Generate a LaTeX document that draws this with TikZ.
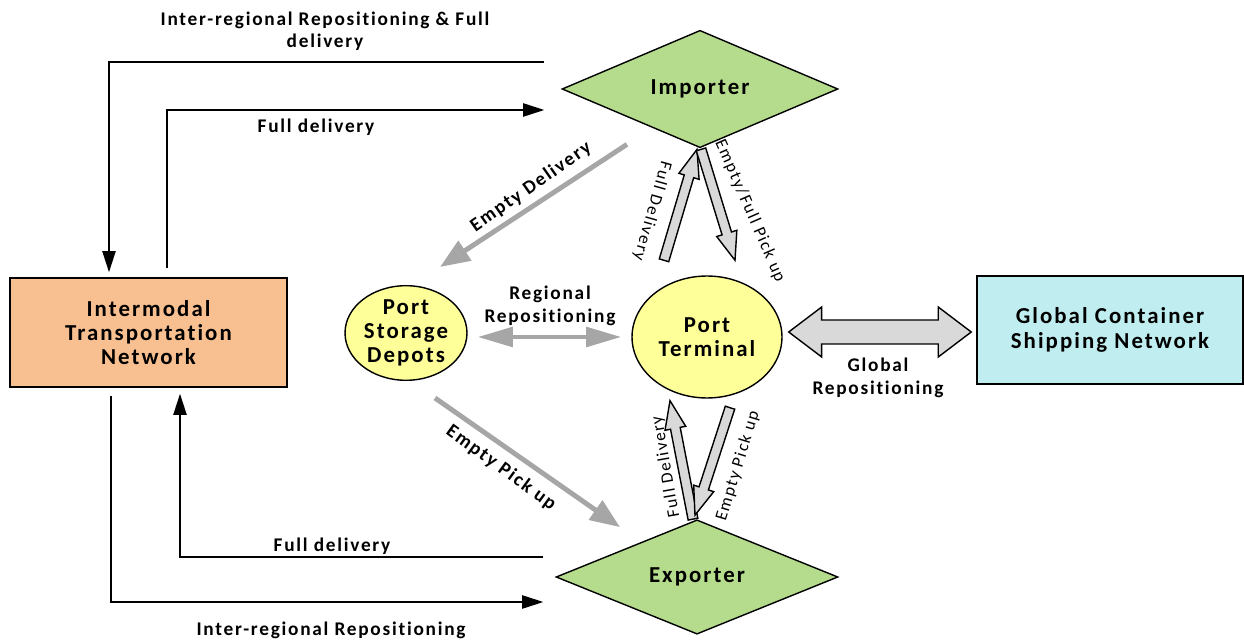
\documentclass[tikz,border=0pt]{standalone}
\usepackage{fontspec}
\usetikzlibrary{shapes.geometric,arrows.meta,calc}
\newfontfamily\cf{Carlito}[LetterSpace=9, Ligatures={NoCommon}]
\definecolor{peach}{HTML}{F8BF90}
\definecolor{ylw}{HTML}{FFFF99}
\definecolor{grn}{HTML}{B5DC8C}
\definecolor{cyn}{HTML}{C0EEF0}
\definecolor{garr}{HTML}{A6A6A6}
\definecolor{blk}{HTML}{D9D9D9}
\tikzset{
  ntext/.style={font=\cf\bfseries\fontsize{13}{13.8}\selectfont, align=center, text=black},
  lbl/.style={font=\cf\bfseries\fontsize{11}{12.8}\selectfont, align=center, inner sep=0pt},
  rlbl/.style={font=\cf\fontsize{9.8}{11}\selectfont, inner sep=0pt},
  boxnode/.style={ntext, draw=black, line width=0.9pt, rectangle, inner sep=0pt},
  dia/.style={ntext, draw=black, line width=0.8pt, diamond, fill=grn, inner sep=0pt, minimum width=5.52cm, minimum height=2.14cm},
  ell/.style={ntext, draw=black, line width=0.8pt, ellipse, fill=ylw, inner sep=0pt},
  blkarrow/.style={draw=black, line width=0.9pt, -{Triangle[length=12pt,width=7.5pt]}},
  grayarrow/.style={draw=garr, line width=2.8pt, -{Triangle[length=17pt,width=13pt]}},
  grayarrowtwo/.style={draw=garr, line width=2.6pt, {Triangle[length=20pt,width=11pt]}-{Triangle[length=20pt,width=11pt]}},
  blockfill/.style={draw=black, line width=0.8pt, fill=blk, line join=miter},
}
\newcommand\blockarr[2]{%
  \coordinate (baH) at ($(#2)!16pt!(#1)$);
  \draw[blockfill] ($(#1)!2.8pt!90:(#2)$) -- ($(baH)!2.8pt!90:(#2)$) -- ($(baH)!6pt!90:(#2)$) -- (#2) -- ($(baH)!6pt!-90:(#2)$) -- ($(baH)!2.8pt!-90:(#2)$) -- ($(#1)!2.8pt!-90:(#2)$) -- cycle;
}
\begin{document}
\begin{tikzpicture}[x=0.02cm,y=-0.02cm]
\useasboundingbox (0,0) rectangle (1244,641);
% nodes
\node[boxnode, fill=peach, minimum width=5.54cm, minimum height=2.18cm] (itn) at (148.5,332.5) {Intermodal\\Transportation\\Network};
\node[boxnode, fill=cyn, minimum width=5.32cm, minimum height=2.16cm] (gcs) at (1110,330) {Global Container\\Shipping Network};
\node[ell, minimum width=2.44cm, minimum height=1.8cm] (psd) at (406,333) {Port\\Storage\\Depots};
\node[ell, minimum width=3.0cm, minimum height=2.44cm] (ptm) at (707,337) {Port\\Terminal};
\node[dia] (imp) at (700,89) {Importer};
\node[dia, minimum width=5.64cm, minimum height=2.2cm] (exp) at (697,577) {Exporter};

% black connectors
\coordinate (i1) at ([shift={(-17,-27)}]imp.west);
\coordinate (n1) at ([shift={(-39.5,-5)}]itn.north);
\draw[blkarrow] (i1) -| (n1);
\coordinate (n2) at ([shift={(18.5,-9)}]itn.north);
\coordinate (i2) at ([shift={(-17,21)}]imp.west);
\draw[blkarrow] (n2) |- (i2);
\coordinate (n3) at ([shift={(-37.5,8)}]itn.south);
\coordinate (e3) at ([shift={(-12,25)}]exp.west);
\draw[blkarrow] (n3) |- (e3);
\coordinate (e4) at ([shift={(-12,-20)}]exp.west);
\coordinate (n4) at ([shift={(31.5,6)}]itn.south);
\draw[blkarrow] (e4) -| (n4);

% gray arrows
\coordinate (ed1) at ([shift={(-73,-4)}]imp.south);
\coordinate (ed2) at ([shift={(34,-18)}]psd.north);
\draw[grayarrow] (ed1) -- (ed2);
\coordinate (ep1) at ([shift={(29,17)}]psd.south);
\coordinate (ep2) at ([shift={(-77,8)}]exp.north);
\draw[grayarrow] (ep1) -- (ep2);
\coordinate (rr2) at ([shift={(-10,0)}]ptm.west);
\coordinate (rr1) at ([shift={(10,0)}]psd.east |- ptm.west);
\draw[grayarrowtwo] (rr1) -- (rr2);

% block arrows importer
\coordinate (fdA) at ([shift={(-43,-15)}]ptm.north);
\coordinate (fdB) at ([shift={(-3,1)}]imp.south);
\blockarr{fdA}{fdB}
\coordinate (efA) at ([shift={(1,1)}]imp.south);
\coordinate (efB) at ([shift={(28,-15)}]ptm.north);
\blockarr{efA}{efB}
% block arrows exporter
\coordinate (xfA) at ([shift={(-4,0)}]exp.north);
\coordinate (xfB) at ([shift={(-37,2)}]ptm.south);
\blockarr{xfA}{xfB}
\coordinate (xeA) at ([shift={(23,9)}]ptm.south);
\coordinate (xeB) at ([shift={(-2,-4)}]exp.north);
\blockarr{xeA}{xeB}

% global double block arrow
\coordinate (g1) at ([shift={(6,-5)}]ptm.east);
\coordinate (g2) at ([shift={(-5,2)}]gcs.west);
\draw[blockfill] (g1) -- ([shift={(33,-25)}]g1) -- ([shift={(33,-12)}]g1) -- ([shift={(-33,-12)}]g2) -- ([shift={(-33,-25)}]g2) -- (g2) -- ([shift={(-33,25)}]g2) -- ([shift={(-33,12)}]g2) -- ([shift={(33,12)}]g1) -- ([shift={(33,25)}]g1) -- cycle;

% labels
\node[lbl] (t1) at (325,31) {Inter-regional Repositioning \& Full\\delivery};
\node[lbl] (t2) at (316,127) {Full delivery};
\node[lbl] (t3) at (332,546) {Full delivery};
\node[lbl] (t4) at (331,630) {Inter-regional Repositioning};
\node[lbl] (t5) at (550,306) {Regional\\Repositioning};
\node[lbl] (t6) at (878,378) {Global\\Repositioning};
\node[lbl, rotate=35] (t7) at (531,187) {Empty Delivery};
\node[lbl, rotate=-36] (t8) at (501,468) {Empty Pick up};
\node[rlbl, rotate=-105.7] (t9) at (652,211) {Full Delivery};
\node[rlbl, rotate=-66.5] (t10) at (750,211) {Empty/Full Pick up};
\node[rlbl, rotate=100] (t11) at (666,467) {Full Delivery};
\node[rlbl, rotate=73] (t12) at (738,466) {Empty Pick up};
\end{tikzpicture}
\end{document}
